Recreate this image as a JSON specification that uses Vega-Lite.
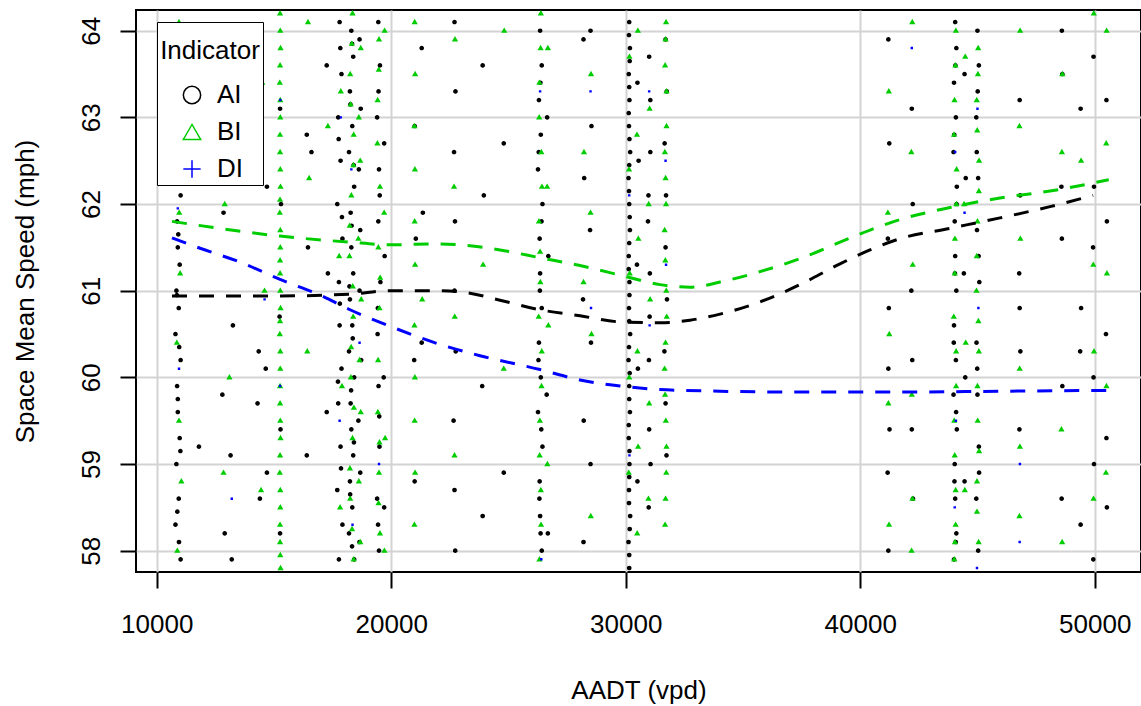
{
  "$schema": "https://vega.github.io/schema/vega-lite/v6.json",
  "width": 1005,
  "height": 562,
  "autosize": {"type": "none"},
  "padding": {"left": 136, "top": 10, "right": 0, "bottom": 134},
  "background": "white",
  "config": {
    "font": "Liberation Sans",
    "view": {"stroke": "black", "strokeWidth": 2},
    "axis": {
      "labelFont": "Liberation Sans", "titleFont": "Liberation Sans",
      "labelFontSize": 26, "titleFontSize": 26, "titleFontWeight": "normal",
      "labelColor": "black", "titleColor": "black",
      "tickColor": "black", "tickWidth": 2, "tickSize": 16,
      "domain": false,
      "gridColor": "#D3D3D3", "gridWidth": 2, "gridOpacity": 1
    },
    "legend": {
      "labelFont": "Liberation Sans", "titleFont": "Liberation Sans",
      "labelFontSize": 26, "titleFontSize": 26, "titleFontWeight": "normal",
      "labelColor": "black", "titleColor": "black"
    }
  },
  "datasets": {
    "pts": [
      {"x":10900,"y":63.9,"g":"AI"},{"x":10980,"y":63.5,"g":"AI"},{"x":10840,"y":63.2,"g":"AI"},{"x":10940,"y":62.8,"g":"AI"},{"x":10800,"y":62.5,"g":"AI"},{"x":11020,"y":62.1,"g":"AI"},{"x":10870,"y":61.8,"g":"AI"},{"x":10900,"y":61.5,"g":"AI"},{"x":10980,"y":61.3,"g":"AI"},{"x":10840,"y":61.0,"g":"AI"},{"x":10940,"y":60.8,"g":"AI"},{"x":10800,"y":60.5,"g":"AI"},{"x":11020,"y":60.2,"g":"AI"},{"x":10870,"y":59.9,"g":"AI"},{"x":10900,"y":59.6,"g":"AI"},{"x":10980,"y":59.3,"g":"AI"},{"x":10840,"y":59.0,"g":"AI"},{"x":10940,"y":58.6,"g":"AI"},{"x":10800,"y":58.3,"g":"AI"},{"x":11020,"y":57.9,"g":"AI"},
      {"x":10950,"y":63.75,"g":"AI"},{"x":10890,"y":63.05,"g":"AI"},{"x":11000,"y":62.35,"g":"AI"},{"x":10920,"y":61.65,"g":"AI"},{"x":10860,"y":60.95,"g":"AI"},{"x":10960,"y":60.35,"g":"AI"},{"x":10900,"y":59.75,"g":"AI"},{"x":11010,"y":59.15,"g":"AI"},{"x":10880,"y":58.45,"g":"AI"},{"x":10950,"y":58.1,"g":"AI"},
      {"x":11850,"y":62.4,"g":"AI"},{"x":11800,"y":59.2,"g":"AI"},
      {"x":12800,"y":63.4,"g":"AI"},{"x":13200,"y":62.6,"g":"AI"},{"x":12850,"y":61.9,"g":"AI"},{"x":13250,"y":60.6,"g":"AI"},{"x":12800,"y":59.8,"g":"AI"},{"x":13150,"y":59.1,"g":"AI"},{"x":12900,"y":58.2,"g":"AI"},{"x":13200,"y":57.9,"g":"AI"},
      {"x":14300,"y":64.0,"g":"AI"},{"x":14700,"y":62.2,"g":"AI"},{"x":14350,"y":60.3,"g":"AI"},{"x":14650,"y":60.1,"g":"AI"},{"x":14300,"y":59.7,"g":"AI"},{"x":14700,"y":58.9,"g":"AI"},{"x":14400,"y":58.6,"g":"AI"},
      {"x":15260,"y":63.1,"g":"AI"},{"x":15300,"y":62.0,"g":"AI"},{"x":15240,"y":60.7,"g":"AI"},{"x":15280,"y":59.4,"g":"AI"},{"x":15260,"y":58.2,"g":"AI"},
      {"x":16400,"y":62.8,"g":"AI"},{"x":16600,"y":62.6,"g":"AI"},{"x":16450,"y":61.5,"g":"AI"},{"x":16400,"y":59.1,"g":"AI"},
      {"x":17250,"y":63.6,"g":"AI"},{"x":17300,"y":61.2,"g":"AI"},{"x":17250,"y":59.6,"g":"AI"},
      {"x":17800,"y":64.1,"g":"AI"},{"x":17880,"y":63.5,"g":"AI"},{"x":17740,"y":63.0,"g":"AI"},{"x":17840,"y":62.5,"g":"AI"},{"x":17700,"y":62.0,"g":"AI"},{"x":17920,"y":61.6,"g":"AI"},{"x":17770,"y":61.1,"g":"AI"},{"x":17800,"y":60.6,"g":"AI"},{"x":17880,"y":60.1,"g":"AI"},{"x":17740,"y":59.7,"g":"AI"},{"x":17840,"y":59.2,"g":"AI"},{"x":17700,"y":58.7,"g":"AI"},{"x":17920,"y":58.3,"g":"AI"},{"x":17770,"y":57.9,"g":"AI"},
      {"x":17830,"y":63.8,"g":"AI"},{"x":17760,"y":62.75,"g":"AI"},{"x":17900,"y":61.85,"g":"AI"},{"x":17810,"y":60.85,"g":"AI"},{"x":17730,"y":59.95,"g":"AI"},{"x":17860,"y":58.95,"g":"AI"},
      {"x":18300,"y":64.0,"g":"AI"},{"x":18380,"y":63.7,"g":"AI"},{"x":18240,"y":63.3,"g":"AI"},{"x":18340,"y":62.9,"g":"AI"},{"x":18200,"y":62.6,"g":"AI"},{"x":18420,"y":62.2,"g":"AI"},{"x":18270,"y":61.9,"g":"AI"},{"x":18300,"y":61.5,"g":"AI"},{"x":18380,"y":61.2,"g":"AI"},{"x":18240,"y":60.9,"g":"AI"},{"x":18340,"y":60.6,"g":"AI"},{"x":18200,"y":60.3,"g":"AI"},{"x":18420,"y":60.0,"g":"AI"},{"x":18270,"y":59.7,"g":"AI"},{"x":18300,"y":59.4,"g":"AI"},{"x":18380,"y":59.1,"g":"AI"},{"x":18240,"y":58.8,"g":"AI"},{"x":18340,"y":58.5,"g":"AI"},{"x":18200,"y":58.2,"g":"AI"},{"x":18420,"y":57.9,"g":"AI"},
      {"x":18330,"y":63.85,"g":"AI"},{"x":18260,"y":63.15,"g":"AI"},{"x":18400,"y":62.45,"g":"AI"},{"x":18310,"y":61.75,"g":"AI"},{"x":18220,"y":61.05,"g":"AI"},{"x":18360,"y":60.45,"g":"AI"},{"x":18290,"y":59.85,"g":"AI"},{"x":18410,"y":59.25,"g":"AI"},{"x":18250,"y":58.65,"g":"AI"},{"x":18330,"y":58.05,"g":"AI"},
      {"x":18650,"y":63.9,"g":"AI"},{"x":18700,"y":63.1,"g":"AI"},{"x":18620,"y":62.4,"g":"AI"},{"x":18680,"y":61.7,"g":"AI"},{"x":18650,"y":61.0,"g":"AI"},{"x":18720,"y":60.2,"g":"AI"},{"x":18600,"y":59.5,"g":"AI"},{"x":18680,"y":58.9,"g":"AI"},{"x":18650,"y":58.1,"g":"AI"},
      {"x":19450,"y":64.1,"g":"AI"},{"x":19520,"y":63.6,"g":"AI"},{"x":19400,"y":63.0,"g":"AI"},{"x":19480,"y":62.4,"g":"AI"},{"x":19450,"y":61.8,"g":"AI"},{"x":19540,"y":61.1,"g":"AI"},{"x":19420,"y":60.5,"g":"AI"},{"x":19460,"y":59.9,"g":"AI"},{"x":19500,"y":59.2,"g":"AI"},{"x":19400,"y":58.6,"g":"AI"},{"x":19480,"y":58.0,"g":"AI"},
      {"x":19460,"y":63.3,"g":"AI"},{"x":19510,"y":62.1,"g":"AI"},{"x":19430,"y":60.8,"g":"AI"},{"x":19490,"y":59.55,"g":"AI"},{"x":19440,"y":58.3,"g":"AI"},
      {"x":19700,"y":62.7,"g":"AI"},{"x":19720,"y":61.4,"g":"AI"},{"x":19680,"y":60.0,"g":"AI"},{"x":19700,"y":58.5,"g":"AI"},
      {"x":21000,"y":62.9,"g":"AI"},{"x":21050,"y":61.6,"g":"AI"},{"x":20980,"y":60.2,"g":"AI"},{"x":21000,"y":58.8,"g":"AI"},
      {"x":21300,"y":63.8,"g":"AI"},{"x":21350,"y":61.9,"g":"AI"},{"x":21300,"y":60.4,"g":"AI"},
      {"x":22700,"y":64.1,"g":"AI"},{"x":22740,"y":63.3,"g":"AI"},{"x":22680,"y":62.6,"g":"AI"},{"x":22720,"y":61.8,"g":"AI"},{"x":22700,"y":61.0,"g":"AI"},{"x":22750,"y":60.3,"g":"AI"},{"x":22660,"y":59.5,"g":"AI"},{"x":22700,"y":58.7,"g":"AI"},{"x":22730,"y":58.0,"g":"AI"},
      {"x":23900,"y":63.6,"g":"AI"},{"x":23950,"y":62.1,"g":"AI"},{"x":23880,"y":59.9,"g":"AI"},{"x":23900,"y":58.4,"g":"AI"},
      {"x":24800,"y":62.7,"g":"AI"},{"x":24800,"y":58.9,"g":"AI"},
      {"x":26350,"y":64.0,"g":"AI"},{"x":26420,"y":63.6,"g":"AI"},{"x":26300,"y":63.2,"g":"AI"},{"x":26380,"y":62.8,"g":"AI"},{"x":26260,"y":62.4,"g":"AI"},{"x":26450,"y":62.0,"g":"AI"},{"x":26330,"y":61.6,"g":"AI"},{"x":26350,"y":61.2,"g":"AI"},{"x":26420,"y":60.8,"g":"AI"},{"x":26300,"y":60.4,"g":"AI"},{"x":26380,"y":60.0,"g":"AI"},{"x":26260,"y":59.6,"g":"AI"},{"x":26450,"y":59.2,"g":"AI"},{"x":26330,"y":58.8,"g":"AI"},{"x":26350,"y":58.4,"g":"AI"},{"x":26420,"y":58.0,"g":"AI"},
      {"x":26360,"y":63.4,"g":"AI"},{"x":26290,"y":62.6,"g":"AI"},{"x":26410,"y":61.8,"g":"AI"},{"x":26340,"y":61.0,"g":"AI"},{"x":26280,"y":60.2,"g":"AI"},{"x":26400,"y":59.4,"g":"AI"},{"x":26320,"y":58.6,"g":"AI"},{"x":26370,"y":58.2,"g":"AI"},
      {"x":26650,"y":63.0,"g":"AI"},{"x":26700,"y":61.4,"g":"AI"},{"x":26630,"y":59.8,"g":"AI"},{"x":26680,"y":58.2,"g":"AI"},
      {"x":28200,"y":63.9,"g":"AI"},{"x":28230,"y":62.3,"g":"AI"},{"x":28180,"y":60.9,"g":"AI"},{"x":28210,"y":59.5,"g":"AI"},{"x":28200,"y":58.1,"g":"AI"},
      {"x":28500,"y":64.0,"g":"AI"},{"x":28540,"y":62.9,"g":"AI"},{"x":28480,"y":61.7,"g":"AI"},{"x":28520,"y":60.4,"g":"AI"},{"x":28500,"y":59.0,"g":"AI"},
      {"x":30150,"y":64.1,"g":"AI"},{"x":30180,"y":63.8,"g":"AI"},{"x":30130,"y":63.5,"g":"AI"},{"x":30160,"y":63.2,"g":"AI"},{"x":30140,"y":62.9,"g":"AI"},{"x":30190,"y":62.6,"g":"AI"},{"x":30120,"y":62.3,"g":"AI"},{"x":30150,"y":62.0,"g":"AI"},{"x":30180,"y":61.7,"g":"AI"},{"x":30130,"y":61.4,"g":"AI"},{"x":30160,"y":61.1,"g":"AI"},{"x":30140,"y":60.8,"g":"AI"},{"x":30190,"y":60.5,"g":"AI"},{"x":30120,"y":60.2,"g":"AI"},{"x":30150,"y":59.9,"g":"AI"},{"x":30180,"y":59.6,"g":"AI"},{"x":30130,"y":59.3,"g":"AI"},{"x":30160,"y":59.0,"g":"AI"},{"x":30140,"y":58.7,"g":"AI"},{"x":30190,"y":58.4,"g":"AI"},{"x":30120,"y":58.1,"g":"AI"},{"x":30150,"y":57.8,"g":"AI"},
      {"x":30140,"y":63.95,"g":"AI"},{"x":30170,"y":63.65,"g":"AI"},{"x":30150,"y":63.35,"g":"AI"},{"x":30130,"y":63.05,"g":"AI"},{"x":30160,"y":62.75,"g":"AI"},{"x":30150,"y":62.45,"g":"AI"},{"x":30140,"y":62.15,"g":"AI"},{"x":30170,"y":61.85,"g":"AI"},{"x":30150,"y":61.55,"g":"AI"},{"x":30130,"y":61.25,"g":"AI"},{"x":30160,"y":60.95,"g":"AI"},{"x":30150,"y":60.65,"g":"AI"},{"x":30140,"y":60.35,"g":"AI"},{"x":30170,"y":60.05,"g":"AI"},{"x":30150,"y":59.75,"g":"AI"},{"x":30130,"y":59.45,"g":"AI"},{"x":30160,"y":59.15,"g":"AI"},{"x":30150,"y":58.85,"g":"AI"},{"x":30140,"y":58.55,"g":"AI"},{"x":30170,"y":58.25,"g":"AI"},{"x":30150,"y":57.95,"g":"AI"},
      {"x":30500,"y":63.4,"g":"AI"},{"x":30550,"y":62.5,"g":"AI"},{"x":30480,"y":61.3,"g":"AI"},{"x":30520,"y":60.1,"g":"AI"},{"x":30500,"y":58.8,"g":"AI"},
      {"x":31000,"y":63.7,"g":"AI"},{"x":31050,"y":62.6,"g":"AI"},{"x":30950,"y":61.8,"g":"AI"},{"x":31020,"y":60.7,"g":"AI"},{"x":31000,"y":59.4,"g":"AI"},{"x":30980,"y":58.5,"g":"AI"},
      {"x":31050,"y":63.2,"g":"AI"},{"x":30970,"y":62.1,"g":"AI"},{"x":31030,"y":61.2,"g":"AI"},{"x":30990,"y":60.2,"g":"AI"},{"x":31060,"y":59.0,"g":"AI"},
      {"x":31700,"y":63.9,"g":"AI"},{"x":31750,"y":63.3,"g":"AI"},{"x":31660,"y":62.7,"g":"AI"},{"x":31720,"y":62.1,"g":"AI"},{"x":31700,"y":61.5,"g":"AI"},{"x":31760,"y":60.9,"g":"AI"},{"x":31650,"y":60.3,"g":"AI"},{"x":31700,"y":59.7,"g":"AI"},{"x":31740,"y":59.1,"g":"AI"},
      {"x":41200,"y":63.9,"g":"AI"},{"x":41240,"y":62.7,"g":"AI"},{"x":41180,"y":61.6,"g":"AI"},{"x":41220,"y":60.8,"g":"AI"},{"x":41200,"y":60.1,"g":"AI"},{"x":41250,"y":59.4,"g":"AI"},{"x":41170,"y":58.9,"g":"AI"},{"x":41200,"y":58.0,"g":"AI"},
      {"x":42200,"y":63.1,"g":"AI"},{"x":42240,"y":62.0,"g":"AI"},{"x":42180,"y":61.0,"g":"AI"},{"x":42220,"y":60.2,"g":"AI"},{"x":42200,"y":59.4,"g":"AI"},{"x":42250,"y":58.6,"g":"AI"},
      {"x":44050,"y":64.1,"g":"AI"},{"x":44100,"y":63.8,"g":"AI"},{"x":44000,"y":63.4,"g":"AI"},{"x":44080,"y":63.0,"g":"AI"},{"x":43980,"y":62.6,"g":"AI"},{"x":44120,"y":62.2,"g":"AI"},{"x":44030,"y":61.8,"g":"AI"},{"x":44050,"y":61.4,"g":"AI"},{"x":44100,"y":61.0,"g":"AI"},{"x":44000,"y":60.6,"g":"AI"},{"x":44080,"y":60.2,"g":"AI"},{"x":43980,"y":59.8,"g":"AI"},{"x":44120,"y":59.4,"g":"AI"},{"x":44030,"y":59.0,"g":"AI"},{"x":44050,"y":58.6,"g":"AI"},{"x":44100,"y":58.2,"g":"AI"},{"x":44000,"y":57.9,"g":"AI"},
      {"x":44060,"y":63.6,"g":"AI"},{"x":44010,"y":62.8,"g":"AI"},{"x":44110,"y":62.0,"g":"AI"},{"x":44040,"y":61.2,"g":"AI"},{"x":43990,"y":60.4,"g":"AI"},{"x":44090,"y":59.6,"g":"AI"},{"x":44020,"y":58.8,"g":"AI"},{"x":44070,"y":58.1,"g":"AI"},
      {"x":44450,"y":63.5,"g":"AI"},{"x":44500,"y":62.3,"g":"AI"},{"x":44420,"y":61.2,"g":"AI"},{"x":44480,"y":60.0,"g":"AI"},{"x":44450,"y":58.8,"g":"AI"},
      {"x":45000,"y":64.0,"g":"AI"},{"x":45060,"y":63.6,"g":"AI"},{"x":44950,"y":63.0,"g":"AI"},{"x":45030,"y":62.3,"g":"AI"},{"x":44980,"y":61.7,"g":"AI"},{"x":45080,"y":61.1,"g":"AI"},{"x":44960,"y":60.4,"g":"AI"},{"x":45000,"y":59.8,"g":"AI"},{"x":45060,"y":59.2,"g":"AI"},{"x":44950,"y":58.6,"g":"AI"},{"x":45030,"y":58.0,"g":"AI"},
      {"x":45010,"y":63.3,"g":"AI"},{"x":44970,"y":62.6,"g":"AI"},{"x":45050,"y":61.4,"g":"AI"},{"x":44990,"y":60.1,"g":"AI"},{"x":45070,"y":58.9,"g":"AI"},
      {"x":46800,"y":63.2,"g":"AI"},{"x":46820,"y":62.1,"g":"AI"},{"x":46780,"y":61.2,"g":"AI"},{"x":46800,"y":60.8,"g":"AI"},{"x":46830,"y":60.3,"g":"AI"},{"x":46790,"y":59.4,"g":"AI"},
      {"x":48600,"y":64.0,"g":"AI"},{"x":48620,"y":63.5,"g":"AI"},{"x":48580,"y":62.2,"g":"AI"},{"x":48600,"y":61.6,"g":"AI"},{"x":48620,"y":59.9,"g":"AI"},{"x":48590,"y":58.6,"g":"AI"},
      {"x":49400,"y":63.1,"g":"AI"},{"x":49420,"y":60.8,"g":"AI"},{"x":49380,"y":60.3,"g":"AI"},{"x":49400,"y":58.3,"g":"AI"},
      {"x":49950,"y":63.7,"g":"AI"},{"x":49970,"y":62.2,"g":"AI"},{"x":49930,"y":61.5,"g":"AI"},{"x":49950,"y":60.0,"g":"AI"},{"x":49970,"y":59.0,"g":"AI"},{"x":49940,"y":57.9,"g":"AI"},
      {"x":50500,"y":63.2,"g":"AI"},{"x":50520,"y":61.8,"g":"AI"},{"x":50480,"y":60.5,"g":"AI"},{"x":50500,"y":59.3,"g":"AI"},{"x":50520,"y":58.5,"g":"AI"},

      {"x":10950,"y":64.1,"g":"BI"},{"x":11050,"y":63.0,"g":"BI"},{"x":10880,"y":62.3,"g":"BI"},{"x":10960,"y":61.9,"g":"BI"},{"x":11000,"y":61.2,"g":"BI"},{"x":10860,"y":60.4,"g":"BI"},{"x":10950,"y":59.5,"g":"BI"},{"x":11050,"y":58.8,"g":"BI"},{"x":10880,"y":58.0,"g":"BI"},
      {"x":12900,"y":62.0,"g":"BI"},{"x":13100,"y":60.0,"g":"BI"},{"x":12850,"y":58.9,"g":"BI"},
      {"x":14500,"y":63.4,"g":"BI"},{"x":14600,"y":61.0,"g":"BI"},{"x":14450,"y":58.7,"g":"BI"},
      {"x":15260,"y":64.2,"g":"BI"},{"x":15280,"y":63.8,"g":"BI"},{"x":15250,"y":63.4,"g":"BI"},{"x":15270,"y":63.0,"g":"BI"},{"x":15260,"y":62.6,"g":"BI"},{"x":15280,"y":62.2,"g":"BI"},{"x":15250,"y":61.9,"g":"BI"},{"x":15270,"y":61.5,"g":"BI"},{"x":15260,"y":61.2,"g":"BI"},{"x":15280,"y":60.8,"g":"BI"},{"x":15250,"y":60.5,"g":"BI"},{"x":15270,"y":60.1,"g":"BI"},{"x":15260,"y":59.7,"g":"BI"},{"x":15280,"y":59.3,"g":"BI"},{"x":15250,"y":58.9,"g":"BI"},{"x":15270,"y":58.5,"g":"BI"},{"x":15260,"y":58.1,"g":"BI"},{"x":15280,"y":57.8,"g":"BI"},
      {"x":15270,"y":64.0,"g":"BI"},{"x":15260,"y":63.6,"g":"BI"},{"x":15270,"y":63.2,"g":"BI"},{"x":15260,"y":62.8,"g":"BI"},{"x":15270,"y":62.4,"g":"BI"},{"x":15260,"y":62.05,"g":"BI"},{"x":15270,"y":61.7,"g":"BI"},{"x":15260,"y":61.35,"g":"BI"},{"x":15270,"y":61.0,"g":"BI"},{"x":15260,"y":60.65,"g":"BI"},{"x":15270,"y":60.3,"g":"BI"},{"x":15260,"y":59.9,"g":"BI"},{"x":15270,"y":59.5,"g":"BI"},{"x":15260,"y":59.1,"g":"BI"},{"x":15270,"y":58.7,"g":"BI"},{"x":15260,"y":58.3,"g":"BI"},{"x":15270,"y":57.95,"g":"BI"},
      {"x":16450,"y":64.1,"g":"BI"},{"x":16500,"y":62.3,"g":"BI"},{"x":16420,"y":60.3,"g":"BI"},
      {"x":17300,"y":62.9,"g":"BI"},
      {"x":17850,"y":63.3,"g":"BI"},{"x":17780,"y":61.4,"g":"BI"},{"x":17900,"y":59.9,"g":"BI"},{"x":17820,"y":58.5,"g":"BI"},
      {"x":18350,"y":64.2,"g":"BI"},{"x":18250,"y":63.5,"g":"BI"},{"x":18400,"y":62.8,"g":"BI"},{"x":18300,"y":62.1,"g":"BI"},{"x":18220,"y":61.4,"g":"BI"},{"x":18380,"y":60.7,"g":"BI"},{"x":18280,"y":60.0,"g":"BI"},{"x":18350,"y":59.3,"g":"BI"},{"x":18250,"y":58.6,"g":"BI"},{"x":18400,"y":57.9,"g":"BI"},
      {"x":18320,"y":63.85,"g":"BI"},{"x":18270,"y":63.15,"g":"BI"},{"x":18390,"y":62.45,"g":"BI"},{"x":18230,"y":61.75,"g":"BI"},{"x":18360,"y":61.05,"g":"BI"},{"x":18290,"y":60.35,"g":"BI"},{"x":18410,"y":59.65,"g":"BI"},{"x":18240,"y":58.95,"g":"BI"},{"x":18330,"y":58.25,"g":"BI"},
      {"x":18700,"y":63.8,"g":"BI"},{"x":18620,"y":63.0,"g":"BI"},{"x":18680,"y":62.5,"g":"BI"},{"x":18600,"y":61.6,"g":"BI"},{"x":18720,"y":60.9,"g":"BI"},{"x":18650,"y":60.2,"g":"BI"},{"x":18700,"y":59.6,"g":"BI"},{"x":18620,"y":58.8,"g":"BI"},{"x":18680,"y":58.1,"g":"BI"},
      {"x":19480,"y":63.9,"g":"BI"},{"x":19420,"y":63.2,"g":"BI"},{"x":19520,"y":62.2,"g":"BI"},{"x":19450,"y":61.5,"g":"BI"},{"x":19500,"y":60.8,"g":"BI"},{"x":19430,"y":59.6,"g":"BI"},{"x":19480,"y":58.9,"g":"BI"},{"x":19520,"y":58.2,"g":"BI"},
      {"x":19470,"y":63.55,"g":"BI"},{"x":19410,"y":62.7,"g":"BI"},{"x":19530,"y":61.15,"g":"BI"},{"x":19440,"y":60.2,"g":"BI"},{"x":19500,"y":59.25,"g":"BI"},{"x":19460,"y":58.55,"g":"BI"},
      {"x":19720,"y":64.0,"g":"BI"},{"x":19700,"y":61.9,"g":"BI"},{"x":19740,"y":59.3,"g":"BI"},{"x":19710,"y":58.0,"g":"BI"},
      {"x":21000,"y":64.1,"g":"BI"},{"x":21020,"y":63.5,"g":"BI"},{"x":20990,"y":62.9,"g":"BI"},{"x":21010,"y":62.4,"g":"BI"},{"x":21000,"y":61.8,"g":"BI"},{"x":21020,"y":61.3,"g":"BI"},{"x":20990,"y":60.6,"g":"BI"},{"x":21010,"y":60.0,"g":"BI"},{"x":21000,"y":59.5,"g":"BI"},{"x":21020,"y":58.9,"g":"BI"},{"x":20990,"y":58.3,"g":"BI"},
      {"x":21320,"y":60.9,"g":"BI"},
      {"x":22720,"y":63.9,"g":"BI"},{"x":22680,"y":62.2,"g":"BI"},{"x":22710,"y":60.7,"g":"BI"},{"x":22700,"y":59.1,"g":"BI"},
      {"x":23920,"y":61.3,"g":"BI"},
      {"x":24820,"y":64.0,"g":"BI"},{"x":24800,"y":60.1,"g":"BI"},
      {"x":26380,"y":64.2,"g":"BI"},{"x":26320,"y":63.4,"g":"BI"},{"x":26400,"y":62.6,"g":"BI"},{"x":26300,"y":61.8,"g":"BI"},{"x":26360,"y":61.1,"g":"BI"},{"x":26420,"y":60.3,"g":"BI"},{"x":26340,"y":59.5,"g":"BI"},{"x":26380,"y":58.7,"g":"BI"},{"x":26320,"y":57.9,"g":"BI"},
      {"x":26370,"y":63.8,"g":"BI"},{"x":26310,"y":63.0,"g":"BI"},{"x":26430,"y":62.2,"g":"BI"},{"x":26350,"y":61.45,"g":"BI"},{"x":26290,"y":60.7,"g":"BI"},{"x":26410,"y":59.9,"g":"BI"},{"x":26330,"y":59.1,"g":"BI"},{"x":26390,"y":58.3,"g":"BI"},
      {"x":26680,"y":63.8,"g":"BI"},{"x":26650,"y":62.2,"g":"BI"},{"x":26700,"y":60.6,"g":"BI"},{"x":26660,"y":59.0,"g":"BI"},
      {"x":28220,"y":62.6,"g":"BI"},{"x":28200,"y":61.1,"g":"BI"},
      {"x":28520,"y":63.5,"g":"BI"},{"x":28500,"y":61.9,"g":"BI"},{"x":28540,"y":60.5,"g":"BI"},{"x":28510,"y":58.4,"g":"BI"},
      {"x":30160,"y":63.7,"g":"BI"},{"x":30140,"y":62.4,"g":"BI"},{"x":30170,"y":61.2,"g":"BI"},{"x":30150,"y":60.0,"g":"BI"},{"x":30130,"y":58.9,"g":"BI"},
      {"x":30520,"y":64.0,"g":"BI"},{"x":30480,"y":62.8,"g":"BI"},{"x":30540,"y":61.6,"g":"BI"},{"x":30500,"y":60.3,"g":"BI"},{"x":30530,"y":59.2,"g":"BI"},{"x":30490,"y":58.2,"g":"BI"},
      {"x":31020,"y":63.1,"g":"BI"},{"x":30980,"y":62.0,"g":"BI"},{"x":31040,"y":60.9,"g":"BI"},{"x":31000,"y":59.7,"g":"BI"},{"x":30970,"y":58.6,"g":"BI"},
      {"x":31720,"y":64.1,"g":"BI"},{"x":31680,"y":63.6,"g":"BI"},{"x":31740,"y":62.9,"g":"BI"},{"x":31700,"y":62.3,"g":"BI"},{"x":31660,"y":61.7,"g":"BI"},{"x":31730,"y":61.0,"g":"BI"},{"x":31700,"y":60.4,"g":"BI"},{"x":31680,"y":59.8,"g":"BI"},{"x":31740,"y":59.2,"g":"BI"},{"x":31700,"y":58.6,"g":"BI"},
      {"x":31700,"y":63.9,"g":"BI"},{"x":31740,"y":63.3,"g":"BI"},{"x":31670,"y":62.6,"g":"BI"},{"x":31720,"y":62.0,"g":"BI"},{"x":31690,"y":61.35,"g":"BI"},{"x":31750,"y":60.7,"g":"BI"},{"x":31660,"y":60.1,"g":"BI"},{"x":31710,"y":59.5,"g":"BI"},{"x":31730,"y":58.9,"g":"BI"},{"x":31680,"y":58.3,"g":"BI"},
      {"x":41220,"y":63.3,"g":"BI"},{"x":41180,"y":61.9,"g":"BI"},{"x":41240,"y":60.5,"g":"BI"},{"x":41200,"y":59.7,"g":"BI"},{"x":41230,"y":58.3,"g":"BI"},
      {"x":42220,"y":64.1,"g":"BI"},{"x":42180,"y":62.6,"g":"BI"},{"x":42240,"y":61.3,"g":"BI"},{"x":42200,"y":59.8,"g":"BI"},{"x":42230,"y":58.6,"g":"BI"},{"x":42190,"y":58.0,"g":"BI"},
      {"x":44080,"y":64.0,"g":"BI"},{"x":44020,"y":63.2,"g":"BI"},{"x":44110,"y":62.4,"g":"BI"},{"x":44040,"y":61.6,"g":"BI"},{"x":43990,"y":60.7,"g":"BI"},{"x":44090,"y":59.9,"g":"BI"},{"x":44030,"y":59.1,"g":"BI"},{"x":44070,"y":58.3,"g":"BI"},{"x":44010,"y":57.9,"g":"BI"},
      {"x":44060,"y":63.6,"g":"BI"},{"x":44000,"y":62.8,"g":"BI"},{"x":44100,"y":62.0,"g":"BI"},{"x":44030,"y":61.2,"g":"BI"},{"x":44090,"y":60.3,"g":"BI"},{"x":44010,"y":59.5,"g":"BI"},{"x":44070,"y":58.7,"g":"BI"},{"x":44040,"y":58.1,"g":"BI"},
      {"x":44480,"y":63.7,"g":"BI"},{"x":44430,"y":62.0,"g":"BI"},{"x":44500,"y":60.4,"g":"BI"},{"x":44460,"y":58.7,"g":"BI"},
      {"x":45030,"y":63.8,"g":"BI"},{"x":44970,"y":63.2,"g":"BI"},{"x":45070,"y":62.5,"g":"BI"},{"x":45000,"y":61.8,"g":"BI"},{"x":44960,"y":61.0,"g":"BI"},{"x":45060,"y":60.3,"g":"BI"},{"x":45010,"y":59.5,"g":"BI"},{"x":44980,"y":58.8,"g":"BI"},{"x":45050,"y":58.1,"g":"BI"},
      {"x":45020,"y":63.5,"g":"BI"},{"x":44990,"y":62.85,"g":"BI"},{"x":45060,"y":62.15,"g":"BI"},{"x":44970,"y":61.4,"g":"BI"},{"x":45040,"y":60.65,"g":"BI"},{"x":45000,"y":59.9,"g":"BI"},{"x":45070,"y":59.15,"g":"BI"},{"x":44980,"y":58.45,"g":"BI"},
      {"x":46820,"y":64.0,"g":"BI"},{"x":46790,"y":62.9,"g":"BI"},{"x":46830,"y":61.6,"g":"BI"},{"x":46800,"y":60.1,"g":"BI"},{"x":46810,"y":59.2,"g":"BI"},{"x":46790,"y":58.4,"g":"BI"},
      {"x":48620,"y":63.5,"g":"BI"},{"x":48600,"y":62.6,"g":"BI"},{"x":48580,"y":59.4,"g":"BI"},{"x":48610,"y":58.1,"g":"BI"},
      {"x":49420,"y":62.5,"g":"BI"},
      {"x":49960,"y":64.2,"g":"BI"},{"x":49940,"y":61.3,"g":"BI"},{"x":49970,"y":60.3,"g":"BI"},{"x":49950,"y":58.6,"g":"BI"},
      {"x":50510,"y":64.0,"g":"BI"},{"x":50490,"y":62.7,"g":"BI"},{"x":50520,"y":61.2,"g":"BI"},{"x":50500,"y":59.9,"g":"BI"},{"x":50480,"y":58.9,"g":"BI"},

      {"x":10900,"y":61.95,"g":"DI"},{"x":10950,"y":60.1,"g":"DI"},
      {"x":13200,"y":58.6,"g":"DI"},
      {"x":14600,"y":60.9,"g":"DI"},
      {"x":15270,"y":63.2,"g":"DI"},{"x":15260,"y":59.9,"g":"DI"},
      {"x":17800,"y":59.5,"g":"DI"},{"x":17850,"y":63.0,"g":"DI"},
      {"x":18300,"y":62.4,"g":"DI"},{"x":18350,"y":58.3,"g":"DI"},
      {"x":18650,"y":60.4,"g":"DI"},
      {"x":19480,"y":59.0,"g":"DI"},
      {"x":26350,"y":63.3,"g":"DI"},{"x":26400,"y":57.9,"g":"DI"},
      {"x":28500,"y":63.3,"g":"DI"},{"x":28520,"y":60.8,"g":"DI"},
      {"x":30150,"y":62.1,"g":"DI"},{"x":30160,"y":59.1,"g":"DI"},
      {"x":31000,"y":63.3,"g":"DI"},{"x":31020,"y":60.6,"g":"DI"},
      {"x":31700,"y":62.5,"g":"DI"},{"x":31720,"y":61.3,"g":"DI"},
      {"x":42200,"y":63.8,"g":"DI"},
      {"x":44050,"y":62.6,"g":"DI"},{"x":44080,"y":59.5,"g":"DI"},{"x":44030,"y":58.5,"g":"DI"},
      {"x":44450,"y":61.9,"g":"DI"},
      {"x":45000,"y":63.1,"g":"DI"},{"x":45040,"y":60.8,"g":"DI"},{"x":44980,"y":57.8,"g":"DI"},
      {"x":46800,"y":58.1,"g":"DI"},{"x":46810,"y":59.0,"g":"DI"}
    ],
    "lines": [
      {"x":10652,"y":60.94,"g":"AI"},{"x":15258,"y":60.94,"g":"AI"},{"x":18243,"y":60.96,"g":"AI"},{"x":19949,"y":61.0,"g":"AI"},{"x":22081,"y":61.0,"g":"AI"},{"x":23360,"y":60.97,"g":"AI"},{"x":24640,"y":60.89,"g":"AI"},{"x":26345,"y":60.78,"g":"AI"},{"x":28051,"y":60.71,"g":"AI"},{"x":29757,"y":60.64,"g":"AI"},{"x":31462,"y":60.63,"g":"AI"},{"x":32742,"y":60.66,"g":"AI"},{"x":34021,"y":60.73,"g":"AI"},{"x":35727,"y":60.87,"g":"AI"},{"x":37433,"y":61.07,"g":"AI"},{"x":39138,"y":61.31,"g":"AI"},{"x":40418,"y":61.47,"g":"AI"},{"x":41697,"y":61.6,"g":"AI"},{"x":43829,"y":61.72,"g":"AI"},{"x":45962,"y":61.84,"g":"AI"},{"x":48094,"y":61.97,"g":"AI"},{"x":49932,"y":62.1,"g":"AI"},
      {"x":10652,"y":61.8,"g":"BI"},{"x":15258,"y":61.63,"g":"BI"},{"x":18243,"y":61.56,"g":"BI"},{"x":19949,"y":61.53,"g":"BI"},{"x":22081,"y":61.54,"g":"BI"},{"x":24640,"y":61.47,"g":"BI"},{"x":26345,"y":61.38,"g":"BI"},{"x":28051,"y":61.29,"g":"BI"},{"x":29757,"y":61.18,"g":"BI"},{"x":31462,"y":61.07,"g":"BI"},{"x":32742,"y":61.04,"g":"BI"},{"x":34021,"y":61.1,"g":"BI"},{"x":35727,"y":61.22,"g":"BI"},{"x":37433,"y":61.37,"g":"BI"},{"x":39138,"y":61.56,"g":"BI"},{"x":40418,"y":61.7,"g":"BI"},{"x":41697,"y":61.82,"g":"BI"},{"x":43829,"y":61.96,"g":"BI"},{"x":45962,"y":62.07,"g":"BI"},{"x":48094,"y":62.15,"g":"BI"},{"x":50600,"y":62.28,"g":"BI"},
      {"x":10652,"y":61.61,"g":"DI"},{"x":11847,"y":61.49,"g":"DI"},{"x":13553,"y":61.33,"g":"DI"},{"x":15258,"y":61.13,"g":"DI"},{"x":16964,"y":60.95,"g":"DI"},{"x":18243,"y":60.78,"g":"DI"},{"x":19949,"y":60.59,"g":"DI"},{"x":22081,"y":60.38,"g":"DI"},{"x":23785,"y":60.25,"g":"DI"},{"x":26345,"y":60.09,"g":"DI"},{"x":28051,"y":59.97,"g":"DI"},{"x":29757,"y":59.9,"g":"DI"},{"x":31462,"y":59.86,"g":"DI"},{"x":34021,"y":59.84,"g":"DI"},{"x":37433,"y":59.83,"g":"DI"},{"x":41697,"y":59.83,"g":"DI"},{"x":45962,"y":59.84,"g":"DI"},{"x":50600,"y":59.85,"g":"DI"}
    ]
  },
  "encoding": {
    "x": {"field": "x", "type": "quantitative",
      "scale": {"domain": [9117, 51974], "nice": false, "zero": false},
      "axis": {"values": [10000, 20000, 30000, 40000, 50000], "format": "d", "title": "AADT (vpd)",
        "labelPadding": 23, "titlePadding": 40, "grid": true}},
    "y": {"field": "y", "type": "quantitative",
      "scale": {"domain": [57.754, 64.239], "nice": false, "zero": false},
      "axis": {"values": [58, 59, 60, 61, 62, 63, 64], "title": "Space Mean Speed (mph)",
        "labelAngle": 270, "labelPadding": 16, "titlePadding": 40, "grid": true}},
    "color": {"field": "g", "type": "nominal",
      "scale": {"domain": ["AI", "BI", "DI"], "range": ["#000000", "#00CD00", "#0000FF"]}}
  },
  "layer": [
    {
      "data": {"name": "pts"},
      "mark": {"type": "point", "filled": false, "size": 6, "strokeWidth": 2.2, "opacity": 1, "clip": true},
      "encoding": {
        "shape": {"field": "g", "type": "nominal",
          "scale": {"domain": ["AI", "BI", "DI"], "range": ["circle", "triangle-up", "M-1,0H1M0,-1V1"]}},
        "color": {"field": "g", "type": "nominal",
          "scale": {"domain": ["AI", "BI", "DI"], "range": ["#000000", "#00CD00", "#0000FF"]},
          "legend": {
            "title": "Indicator", "orient": "none", "legendX": 21, "legendY": 12,
            "fillColor": "white", "strokeColor": "black", "padding": 3,
            "titleAnchor": "middle", "titlePadding": 31, "rowPadding": 11,
            "titleBaseline": "line-top", "titleLineHeight": 52,
            "symbolOffset": 3, "labelOffset": 12, "symbolStrokeWidth": 1.5, "symbolSize": 300,
            "encode": {
              "symbols": {
                "enter": {"size": {"signal": "datum.value === 'AI' ? 45 : 300"}, "fill": {"value": "transparent"}, "strokeWidth": {"value": 1.5}},
                "update": {"size": {"signal": "datum.value === 'AI' ? 45 : 300"}, "fill": {"value": "transparent"}, "strokeWidth": {"value": 1.5}}
              },
              "legend": {"update": {"strokeWidth": {"value": 2}}}
            }
          }}
      }
    },
    {
      "data": {"name": "lines"},
      "mark": {"type": "line", "strokeWidth": 3, "strokeDash": [15, 12], "interpolate": "monotone", "clip": true},
      "encoding": {
        "color": {"field": "g", "type": "nominal",
          "scale": {"domain": ["AI", "BI", "DI"], "range": ["#000000", "#00CD00", "#0000FF"]}, "legend": null}
      }
    }
  ]
}
